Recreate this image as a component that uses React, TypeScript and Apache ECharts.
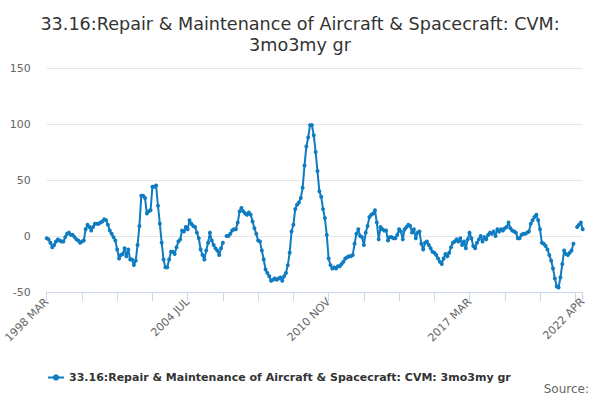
import React, { useEffect, useRef } from "react";
import * as echarts from "echarts";

const TITLE = "33.16:Repair & Maintenance of Aircraft & Spacecraft: CVM:\n3mo3my gr";
const SERIES_NAME = "33.16:Repair & Maintenance of Aircraft & Spacecraft: CVM: 3mo3my gr";

const START_YEAR = 1998;
const START_MONTH_INDEX = 2; // MAR
const MONTHS = ["JAN", "FEB", "MAR", "APR", "MAY", "JUN", "JUL", "AUG", "SEP", "OCT", "NOV", "DEC"];
const MONTH_COUNT = 290; // 1998 MAR .. 2022 APR

const Y_TICKS = [-50, 0, 50, 100, 150];

// values by period (monthly, from 1998 MAR)
const values1998to2000: (number | null)[] = [
  -2, -3, -6, -10, -8, -5, -3, -4, -5, -5, -1, 2, 3, 1, 1, -1, -3, -4, -6, -5,
  -4, 6, 10, 8, 5, 8, 11, 11, 11, 12, 13, 15, 14, 10, 5, 2,
];
const values2001to2003: (number | null)[] = [
  -1, -4, -12, -20, -17, -16, -11, -18, -12, -21, -21, -26, -22, -8, 9, 36, 36, 34,
  20, 22, 23, 44, 44, 45, 27, 11, -6, -21, -28, -28, -21, -14, -14, -16, -10, -5,
];
const values2004to2006: (number | null)[] = [
  -3, 5, 4, 8, 6, 14, 11, 9, 8, 3, -2, -12, -17, -21, -13, -6, 3, -4, -8, -11,
  -13, -17, -11, -6, null, 0, 0, 2, 5, 6, 6, 12, 22, 25, 22, 20,
];
const values2007to2009: (number | null)[] = [
  19, 21, 19, 13, 7, 2, -4, -5, -13, -21, -30, -33, -36, -40, -39, -38, -39, -38,
  -37, -40, -36, -33, -26, -15, 4, 10, 24, 28, 30, 34, 43, 63, 80, 88, 99, 99,
];
const values2010to2012: (number | null)[] = [
  90, 75, 58, 40, 35, 24, 16, 1, -20, -26, -29, -28, -29, -27, -27, -25, -23, -20,
  -19, -18, -18, -17, -7, 2, 6, 0, -1, -8, 3, 9, 17, 19, 20, 23, 12, -3,
];
const values2013to2015: (number | null)[] = [
  8, 6, 5, 5, -4, -1, -1, -2, -2, 1, 6, 4, -3, 6, 8, 10, 9, 3, 6, -2,
  3, 4, -7, -12, -6, -5, -8, -11, -14, -15, -17, -20, -23, -25, -20, -16,
];
const values2016to2018: (number | null)[] = [
  -18, -15, -10, -6, -5, -3, -5, -2, -8, -5, -11, -3, 3, -2, -9, -11, -6, -3,
  0, -5, -1, -3, 1, 3, 2, 4, 0, 6, 4, 6, 5, 7, 8, 12, 7, 5,
];
const values2019to2022: (number | null)[] = [
  4, 3, -2, -2, 1, 2, 2, 3, 4, 11, 14, 17, 19, 14, 6, -6, -7, -9, -12, -17,
  -22, -29, -38, -45, -46, -37, -25, -13, -16, -17, -15, -13, -7, null, 8, 10, 12, 6,
];

const seriesValues = [
  ...values1998to2000,
  ...values2001to2003,
  ...values2004to2006,
  ...values2007to2009,
  ...values2010to2012,
  ...values2013to2015,
  ...values2016to2018,
  ...values2019to2022,
];

const categories: string[] = [];
for (let i = 0; i < MONTH_COUNT; i++) {
  const m = START_MONTH_INDEX + i;
  categories.push(`${START_YEAR + Math.floor(m / 12)} ${MONTHS[m % 12]}`);
}

const TICK_STEP = 19;
const LABEL_STEP = 76;
const LAST = MONTH_COUNT - 1;

export default function App() {
  const ref = useRef<HTMLDivElement>(null);
  useEffect(() => {
    document.body.style.margin = "0";
    if (!ref.current) return;
    const chart = echarts.init(ref.current, undefined, { renderer: "svg" });
    chart.setOption({
      animation: false,
      backgroundColor: "#ffffff",
      title: {
        text: TITLE,
        left: "center",
        top: 8,
        textStyle: {
          fontFamily: "DejaVu Sans",
          fontSize: 17.6,
          fontWeight: "normal",
          color: "#333333",
          lineHeight: 21,
        },
      },
      grid: { left: 46.7, right: 17.3, top: 68, bottom: 108, containLabel: false },
      legend: {
        left: 42,
        top: 367,
        itemWidth: 16,
        itemHeight: 8,
        itemGap: 20,
        textStyle: {
          fontFamily: "DejaVu Sans",
          fontSize: 11,
          fontWeight: "bold",
          color: "#333333",
        },
        data: [SERIES_NAME],
      },
      graphic: [
        {
          type: "text",
          right: 11,
          top: 383,
          style: {
            text: "Source:",
            fontFamily: "DejaVu Sans",
            fontSize: 12,
            fill: "#666666",
          },
        },
      ],
      xAxis: {
        type: "category",
        data: categories,
        boundaryGap: false,
        axisLine: { show: true, onZero: false, lineStyle: { color: "#ccd6eb", width: 1 } },
        axisTick: {
          show: true,
          length: 9,
          lineStyle: { color: "#ccd6eb", width: 1 },
          interval: (index: number) => index % TICK_STEP === 0 || index === LAST,
        },
        axisLabel: {
          rotate: 45,
          margin: 8,
          fontFamily: "DejaVu Sans",
          fontSize: 11,
          color: "#666666",
          interval: (index: number) => index % LABEL_STEP === 0 || index === LAST,
        },
        splitLine: { show: false },
      },
      yAxis: {
        type: "value",
        min: Y_TICKS[0],
        max: Y_TICKS[Y_TICKS.length - 1],
        interval: 50,
        axisLine: { show: false },
        axisTick: { show: false },
        axisLabel: {
          margin: 16,
          fontFamily: "DejaVu Sans",
          fontSize: 11,
          color: "#666666",
        },
        splitLine: { show: true, lineStyle: { color: "#e6e6e6", width: 1 } },
      },
      series: [
        {
          name: SERIES_NAME,
          type: "line",
          data: seriesValues,
          connectNulls: false,
          showSymbol: true,
          showAllSymbol: true,
          symbol: "circle",
          symbolSize: 4,
          color: "#0f7bc1",
          lineStyle: { width: 2, color: "#0f7bc1" },
          itemStyle: { color: "#0f7bc1" },
        },
      ],
    });
    return () => chart.dispose();
  }, []);
  return <div ref={ref} style={{ width: 600, height: 400 }} />;
}
